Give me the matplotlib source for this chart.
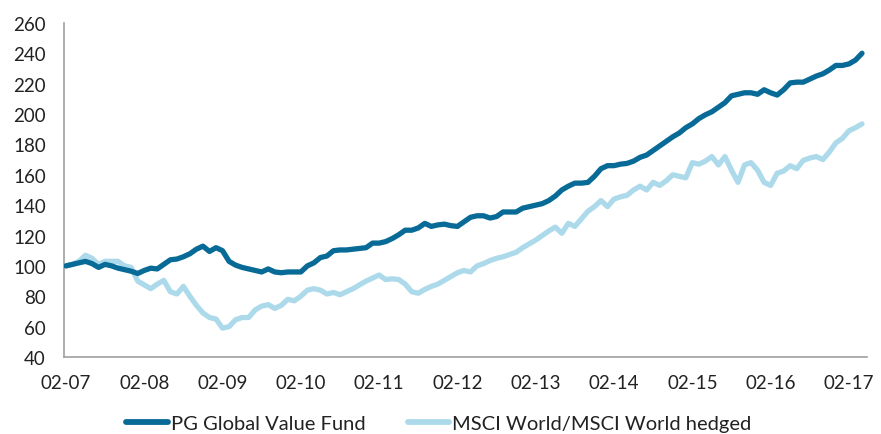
import numpy as np
import matplotlib
matplotlib.use("Agg")
import matplotlib.pyplot as plt

plt.rcParams["font.family"] = ["Lato", "DejaVu Sans"]

# monthly index values, 02-2007 .. 04-2017
pg_fund = [
    100, 101, 102, 103, 101.5, 99, 101, 100, 98.5, 97.5,
    96.5, 95, 97, 98.5, 98, 101, 104, 104.5, 106, 108,
    111, 113, 109.5, 112, 110, 103, 100.5, 99, 98, 97,
    96, 98, 96, 95.5, 96, 96, 96, 100, 102, 105.5,
    106.5, 110, 110.5, 110.5, 111, 111.5, 112, 115, 115, 116,
    118, 120.5, 123.5, 123.5, 125, 128, 126, 127, 127.5, 126.5,
    126, 129, 132, 133, 133, 131.5, 132.5, 135.5, 135.5, 135.5,
    138, 139, 140, 141, 143, 146, 150, 152.5, 154.5, 154.5,
    155, 159, 164, 166, 166, 167, 167.5, 169, 171.5, 173,
    176, 179, 182, 185, 187.5, 191, 193.5, 197, 199.5, 201.5,
    204.5, 207.5, 212, 213, 214, 214, 213, 216, 214, 212.5,
    216, 220.5, 221, 221, 223, 225, 226.5, 229, 232, 232,
    233, 235.5, 240,
]
msci = [
    100, 101, 103, 107, 105, 101, 103, 103, 103, 100,
    99, 90, 87.5, 85, 88, 90.5, 83, 81.5, 86.5, 80,
    74, 69, 66, 65, 59, 60, 64.5, 66, 66, 71,
    73.5, 74.5, 72, 74, 78, 77, 80, 84, 85, 84,
    81.5, 82.5, 81, 83, 85, 87.5, 90, 92, 94, 91,
    91.5, 91, 88, 83, 82, 84.5, 86.5, 88, 90.5, 93,
    95.5, 97, 96, 100, 101.5, 103.5, 105, 106, 107.5, 109,
    112, 114.5, 117, 120, 123, 125.5, 121.5, 128, 126, 131,
    136, 139, 143, 139, 144, 145.5, 146.5, 150, 152.5, 150,
    155, 153, 156, 160, 159, 158, 168, 167, 169, 172,
    166.5, 172, 163, 155, 166.5, 168, 163, 155, 153, 161,
    162.5, 166, 164, 169.5, 171, 172, 170, 175, 181, 184,
    189, 191, 193.5,
]
year_labels = ["02-07", "02-08", "02-09", "02-10", "02-11", "02-12",
               "02-13", "02-14", "02-15", "02-16", "02-17"]

months = np.arange(len(pg_fund))

fig = plt.figure(figsize=(8.81, 4.35), dpi=100)
ax = fig.add_axes([0.0726, 0.177, 0.911, 0.768])

ax.plot(months, pg_fund, color="#086a96", linewidth=3.8,
        solid_capstyle="round", label="PG Global Value Fund", zorder=3)
ax.plot(months, msci, color="#acdaeb", linewidth=3.8,
        solid_capstyle="round", label="MSCI World/MSCI World hedged", zorder=2)

ax.set_xlim(-0.3, 122.7)
ax.set_ylim(40, 260)
ax.set_yticks(np.arange(40, 261, 20))
ax.set_xticks(np.arange(0, 121, 12))
ax.set_xticklabels(year_labels)

for side in ["top", "right"]:
    ax.spines[side].set_visible(False)
for side in ["left", "bottom"]:
    ax.spines[side].set_color("#a0a0a0")
    ax.spines[side].set_linewidth(1.2)

ax.tick_params(axis="both", length=0, labelsize=13.5, colors="#222222")
ax.tick_params(axis="y", pad=13)
ax.tick_params(axis="x", pad=12)

leg = fig.legend(loc="center", bbox_to_anchor=(0.498, 0.024), ncol=2, frameon=False,
                 fontsize=14.5, handlelength=2.05, handletextpad=0.15,
                 columnspacing=2.1)
for line in leg.get_lines():
    line.set_linewidth(4.2)
for t in leg.get_texts():
    t.set_color("#222222")

fig.savefig("out.png", dpi=100)
